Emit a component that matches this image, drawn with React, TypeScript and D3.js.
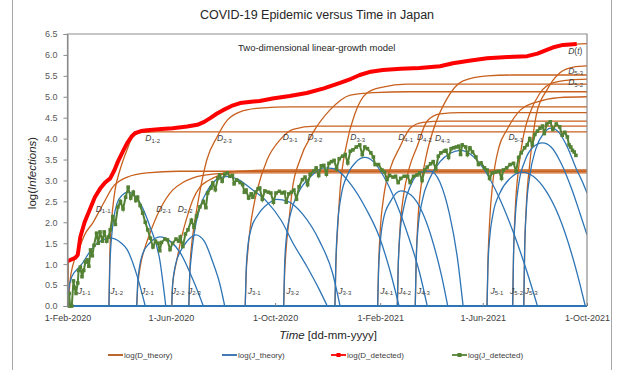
import * as d3 from "d3";
import { FC, useEffect, useRef } from "react";

const WIDTH = 619;
const HEIGHT = 370;
const PLOT = { left: 67.5, right: 587, top: 34, bottom: 306 };

const START = Date.UTC(2020, 1, 1);
const END = Date.UTC(2021, 9, 1);
const xTicks = [
  Date.UTC(2020, 1, 1),
  Date.UTC(2020, 5, 1),
  Date.UTC(2020, 9, 1),
  Date.UTC(2021, 1, 1),
  Date.UTC(2021, 5, 1),
  Date.UTC(2021, 9, 1),
];
const yTicks = [0, 0.5, 1, 1.5, 2, 2.5, 3, 3.5, 4, 4.5, 5, 5.5, 6, 6.5];

type Pt = [number, number]; // [days since 1-Feb-2020, log value]

// detected data
const dDetected: Pt[] = [
  [0, 1.07], [9, 1.15], [12, 1.22], [15, 1.65], [20, 2.0], [26, 2.3], [32, 2.6], [38, 2.8],
  [44, 2.95], [50, 3.05], [55, 3.25], [59, 3.45], [65, 3.7], [70, 3.9], [75, 4.05], [79, 4.13],
  [86, 4.18], [93, 4.2], [110, 4.23], [123, 4.25], [140, 4.29], [152, 4.33], [160, 4.4],
  [167, 4.49], [175, 4.6], [182, 4.68], [192, 4.78], [202, 4.85], [215, 4.88], [225, 4.9],
  [240, 4.96], [260, 5.02], [280, 5.09], [300, 5.2], [319, 5.33], [332, 5.43], [342, 5.52],
  [355, 5.6], [369, 5.64], [390, 5.67], [412, 5.69], [436, 5.73], [451, 5.8], [470, 5.86],
  [491, 5.92], [515, 5.95], [538, 5.97], [550, 6.03], [561, 6.12], [570, 6.19], [580, 6.24],
  [596, 6.26],
];

const jDetected: Pt[] = [
  [0, 0], [2, 0.3], [3, 0], [5, 0], [7, 0.6], [8, 0.45], [10, 0.3], [12, 0.55], [13, 0.85],
  [15, 0.93], [17, 0.7], [19, 0.85], [21, 1.05], [23, 1.1], [25, 0.95], [27, 1.34], [29, 1.2],
  [31, 1.45], [34, 1.74], [36, 1.5], [38, 1.77], [41, 1.55], [43, 1.77], [46, 1.55], [48, 1.65],
  [50, 1.82], [53, 2.13], [56, 1.95], [59, 2.37], [62, 2.5], [65, 2.32], [68, 2.6], [71, 2.84],
  [74, 2.58], [77, 2.72], [80, 2.52], [82, 2.6], [85, 2.4], [88, 2.22], [91, 2.0], [94, 1.82],
  [97, 1.62], [100, 1.41], [103, 1.55], [106, 1.5], [108, 1.32], [110, 1.52], [114, 1.6],
  [117, 1.58], [120, 1.35], [123, 1.5], [127, 1.6], [130, 1.55], [132, 1.65], [135, 1.42],
  [138, 1.72], [141, 1.82], [145, 2.05], [148, 1.88], [151, 2.15], [155, 2.37], [159, 2.5],
  [162, 2.35], [164, 2.7], [168, 2.82], [170, 2.94], [173, 2.78], [176, 3.05], [178, 3.13],
  [181, 2.98], [184, 3.15], [187, 3.18], [190, 3.1], [193, 3.12], [195, 2.92], [198, 3.01],
  [202, 2.95], [205, 2.9], [207, 2.72], [209, 2.77], [212, 2.58], [215, 2.68], [217, 2.6],
  [220, 2.72], [223, 2.8], [225, 2.82], [228, 2.55], [231, 2.75], [235, 2.72], [238, 2.7],
  [241, 2.48], [244, 2.7], [248, 2.74], [251, 2.7], [254, 2.72], [256, 2.48], [259, 2.68],
  [262, 2.72], [265, 2.77], [268, 2.55], [271, 2.85], [275, 3.02], [278, 3.08], [281, 2.9],
  [284, 3.15], [288, 3.22], [291, 3.3], [294, 3.12], [297, 3.35], [300, 3.36], [303, 3.15],
  [306, 3.41], [309, 3.45], [312, 3.48], [315, 3.28], [318, 3.52], [322, 3.58], [325, 3.62],
  [328, 3.42], [331, 3.7], [334, 3.73], [338, 3.8], [342, 3.85], [345, 3.62], [348, 3.8],
  [351, 3.76], [355, 3.66], [358, 3.56], [360, 3.38], [364, 3.38], [368, 3.25], [371, 3.2],
  [374, 3.02], [377, 3.12], [381, 3.08], [384, 3.1], [387, 2.95], [390, 3.05], [394, 3.1],
  [398, 3.1], [401, 2.95], [405, 3.1], [409, 3.13], [412, 3.18], [415, 3.0], [418, 3.25],
  [421, 3.32], [425, 3.4], [428, 3.45], [431, 3.28], [434, 3.58], [437, 3.66], [441, 3.7],
  [443, 3.72], [446, 3.55], [449, 3.76], [452, 3.78], [455, 3.8], [458, 3.82], [460, 3.62],
  [462, 3.85], [466, 3.8], [468, 3.62], [471, 3.78], [474, 3.68], [478, 3.56], [481, 3.38],
  [484, 3.42], [488, 3.3], [491, 3.25], [494, 3.05], [497, 3.18], [501, 3.2], [505, 3.22],
  [508, 3.05], [510, 3.25], [514, 3.3], [518, 3.38], [522, 3.41], [525, 3.22], [528, 3.55],
  [531, 3.66], [535, 3.78], [538, 3.85], [541, 4.0], [544, 3.85], [547, 4.1], [550, 4.18],
  [553, 4.25], [556, 4.3], [558, 4.12], [561, 4.35], [565, 4.4], [568, 4.22], [572, 4.35],
  [576, 4.28], [579, 4.08], [582, 4.15], [585, 4.04], [587, 3.85], [589, 3.8], [591, 3.72],
  [593, 3.68], [595, 3.6],
];

// theory: cumulative D (log), one array per sub-wave
const dTotal: Pt[] = [
  [0.5, 0], [1, 1.08], [9, 1.14], [12, 1.25], [15, 1.6], [26, 2.3], [38, 2.78], [50, 3.05],
  [59, 3.45], [70, 3.88], [79, 4.1], [93, 4.2], [123, 4.25], [152, 4.32], [167, 4.48],
  [182, 4.67], [202, 4.84], [225, 4.9], [240, 4.96], [280, 5.08], [319, 5.32], [342, 5.5],
  [369, 5.63], [412, 5.69], [436, 5.73], [451, 5.79], [491, 5.91], [538, 5.97], [561, 6.12],
  [580, 6.23], [596, 6.26], [608, 6.27],
];
const d11: Pt[] = [[1, 0], [3, 0.6], [6, 0.95], [10, 1.2], [15, 1.45], [20, 1.7], [30, 2.0], [42, 2.45], [53, 2.84], [70, 3.08], [93, 3.18], [130, 3.22], [608, 3.22]];
const d12: Pt[] = [[48.5, 0], [49.5, 1.2], [51, 1.9], [53, 2.35], [55.6, 2.77], [61.4, 3.25], [69.6, 3.73], [76.7, 4.05], [88, 4.15], [105, 4.16], [608, 4.16]];
const d21: Pt[] = [[81, 0], [82, 0.4], [85, 0.93], [90, 1.35], [96.5, 1.74], [108, 2.3], [123, 2.77], [135, 2.95], [147, 3.06], [170, 3.15], [200, 3.18], [608, 3.18]];
const d22: Pt[] = [[122, 0], [123, 0.5], [125, 0.8], [128, 1.1], [133, 1.6], [140, 2.13], [147, 2.55], [155, 2.84], [165, 3.0], [178, 3.13], [200, 3.22], [240, 3.25], [608, 3.25]];
const d23: Pt[] = [[142, 0], [143, 0.8], [145, 1.4], [148, 1.9], [152, 2.4], [156, 2.85], [163, 3.49], [175, 4.04], [187, 4.44], [202, 4.64], [225, 4.73], [260, 4.76], [608, 4.76]];
const d31: Pt[] = [[208, 0], [209, 0.7], [211, 1.3], [214, 1.9], [218, 2.4], [222, 2.77], [233.5, 3.49], [248.7, 3.97], [264, 4.22], [290, 4.3], [608, 4.3]];
const d32: Pt[] = [[253, 0], [254, 0.7], [256, 1.4], [259, 2.0], [263, 2.77], [272, 3.49], [287, 4.13], [307, 4.68], [331, 5.04], [358, 5.1], [400, 5.12], [608, 5.12]];
const d33: Pt[] = [[313, 0], [314, 0.9], [316, 1.8], [319, 2.77], [327, 3.9], [336.5, 4.6], [350.5, 5.09], [369, 5.23], [397, 5.3], [608, 5.3]];
const d41: Pt[] = [[363, 0], [364, 0.9], [366, 1.8], [370, 2.6], [378, 3.3], [389, 3.8], [401, 4.25], [416, 4.39], [440, 4.42], [608, 4.42]];
const d42: Pt[] = [[386, 0], [387, 0.9], [389, 1.8], [393, 2.6], [400, 3.3], [409, 3.8], [421, 4.42], [436, 4.59], [460, 4.62], [608, 4.62]];
const d43: Pt[] = [[407, 0], [408, 1.0], [410, 2.0], [414, 2.9], [420, 3.6], [428, 4.2], [444, 4.95], [463, 5.38], [491, 5.5], [520, 5.52], [608, 5.52]];
const d51: Pt[] = [[491, 0], [492, 1.0], [494, 2.0], [498, 3.0], [505, 3.8], [514, 4.2], [530, 4.68], [550, 4.88], [575, 4.98], [608, 5.0]];
const d52: Pt[] = [[521, 0], [522, 1.2], [524, 2.3], [528, 3.3], [534, 4.1], [541, 4.6], [553, 5.09], [568, 5.33], [588, 5.4], [608, 5.42]];
const d53: Pt[] = [[534, 0], [535, 1.3], [537, 2.4], [541, 3.4], [545, 4.1], [549, 4.6], [561, 5.16], [576, 5.57], [592, 5.71], [608, 5.74]];

// theory: daily J (log), one array per sub-wave
const j11: Pt[] = [[0.5, 0], [1.5, 0.4], [5, 0.7], [15, 0.95], [30, 1.4], [50, 1.62], [62, 1.52], [70, 1.34], [81, 0.75], [91, 0]];
const j12: Pt[] = [[48.5, 0], [49.5, 0.9], [52, 1.74], [58, 2.45], [64, 2.65], [71, 2.72], [78, 2.65], [85, 2.46], [96.5, 1.9], [108, 1.1], [115, 0]];
const j21: Pt[] = [[81, 0], [82, 0.5], [84, 0.9], [88, 1.25], [96, 1.5], [108, 1.65], [120, 1.55], [132, 1.27], [147, 0.62], [159, 0]];
const j22: Pt[] = [[122, 0], [123, 0.5], [126, 0.95], [132, 1.3], [140, 1.55], [150, 1.7], [160, 1.55], [170, 1.05], [178, 0.55], [184, 0]];
const j23: Pt[] = [[142, 0], [143, 0.7], [145, 1.2], [148, 1.7], [155, 2.35], [165, 2.8], [177, 3.05], [188, 3.1], [200, 3.02], [215, 2.8], [233, 2.5], [250, 2.05], [264, 1.5], [280, 0.95], [295, 0.38], [304, 0]];
const j31: Pt[] = [[208, 0], [209, 0.8], [211, 1.4], [215, 1.85], [222, 2.15], [235, 2.45], [245, 2.55], [258, 2.5], [275, 2.2], [295, 1.55], [310, 0.8], [319, 0]];
const j32: Pt[] = [[253, 0], [254, 0.9], [256, 1.6], [261, 2.2], [270, 2.7], [285, 3.1], [300, 3.3], [312, 3.28], [330, 2.95], [350, 2.3], [365, 1.65], [378, 0.8], [388, 0]];
const j33: Pt[] = [[313, 0], [314, 1.0], [316, 1.9], [320, 2.6], [328, 3.15], [338, 3.45], [348, 3.55], [358, 3.45], [370, 3.1], [385, 2.45], [400, 1.6], [412, 0.8], [421, 0]];
const j41: Pt[] = [[363, 0], [364, 0.8], [366, 1.5], [370, 2.1], [378, 2.5], [390, 2.75], [402, 2.65], [415, 2.25], [428, 1.5], [438, 0.7], [445, 0]];
const j42: Pt[] = [[386, 0], [387, 0.9], [389, 1.7], [394, 2.4], [402, 2.9], [414, 3.2], [425, 3.22], [436, 2.95], [447, 2.2], [456, 1.2], [463, 0]];
const j43: Pt[] = [[407, 0], [408, 1.0], [410, 1.8], [415, 2.5], [424, 3.05], [436, 3.45], [448, 3.65], [460, 3.72], [472, 3.62], [488, 3.25], [505, 2.6], [522, 1.75], [538, 0.8], [550, 0]];
const j51: Pt[] = [[491, 0], [492, 0.9], [494, 1.6], [498, 2.2], [506, 2.7], [518, 3.05], [532, 3.2], [545, 3.1], [560, 2.75], [575, 2.15], [590, 1.25], [600, 0.5], [606, 0]];
const j52: Pt[] = [[521, 0], [522, 1.2], [524, 2.1], [528, 2.9], [535, 3.45], [545, 3.8], [556, 3.9], [566, 3.8], [578, 3.4], [590, 2.8], [600, 2.2], [608, 1.7]];
const j53: Pt[] = [[534, 0], [535, 1.3], [537, 2.3], [541, 3.1], [548, 3.75], [557, 4.12], [566, 4.25], [575, 4.15], [585, 3.8], [595, 3.3], [603, 2.95], [608, 2.7]];

const dCurves = [d11, d12, d21, d22, d23, d31, d32, d33, d41, d42, d43, d51, d52, d53];
const jCurves = [j11, j12, j21, j22, j23, j31, j32, j33, j41, j42, j43, j51, j52, j53];

// curve labels: [subscript, day, value]
const dLabels: [string, number, number][] = [
  ["1-1", 33, 2.32], ["2-1", 104, 2.32], ["2-2", 129, 2.32], ["1-2", 91, 4.01],
  ["2-3", 175, 4.01], ["3-1", 252, 4.03], ["3-2", 281, 4.03], ["3-3", 331, 4.03],
  ["4-1", 387, 4.03], ["4-2", 409, 4.03], ["4-3", 430, 4.01], ["5-1", 516, 4.03],
  ["5-2", 586, 5.35], ["5-3", 586, 5.62],
];
const jLabels: [string, number, number][] = [
  ["1-1", 12, 0.36], ["1-2", 50, 0.36], ["2-1", 86, 0.36], ["2-2", 122, 0.36],
  ["2-3", 141, 0.36], ["3-1", 211, 0.36], ["3-2", 256, 0.36], ["3-3", 317, 0.36],
  ["4-1", 366, 0.36], ["4-2", 387, 0.36], ["4-3", 409, 0.36], ["5-1", 495, 0.36],
  ["5-2", 518, 0.36], ["5-3", 535, 0.36],
];

const legendItems = [
  { label: "log(D_theory)", color: "#B4541A", marker: false },
  { label: "log(J_theory)", color: "#2E6AAE", marker: false },
  { label: "log(D_detected)", color: "#FF0000", marker: true },
  { label: "log(J_detected)", color: "#548235", marker: true },
];

const D_COLOR = "#C8601E";
const J_COLOR = "#2E75B6";
const FONT = "'Liberation Sans', Arial, sans-serif";

const App: FC = () => {
  const ref = useRef<SVGSVGElement | null>(null);

  useEffect(() => {
    if (!ref.current) return;
    const svg = d3.select(ref.current);
    svg.selectAll("*").remove();

    const x = d3.scaleUtc([START, END], [PLOT.left, PLOT.right]);
    const y = d3.scaleLinear([0, 6.5], [PLOT.bottom, PLOT.top]);
    const toDate = (d: number) => START + d * 864e5;

    const line = d3
      .line<Pt>()
      .x((p) => x(toDate(p[0])))
      .y((p) => y(p[1]));
    const smooth = d3
      .line<Pt>()
      .x((p) => x(toDate(p[0])))
      .y((p) => y(p[1]))
      .curve(d3.curveMonotoneX);

    // outer chart frame
    svg
      .append("rect")
      .attr("x", 12.5)
      .attr("y", -2)
      .attr("width", 599)
      .attr("height", HEIGHT + 4)
      .attr("fill", "#fff")
      .attr("stroke", "#a6a6a6");

    svg
      .append("text")
      .attr("x", 317)
      .attr("y", 19)
      .attr("text-anchor", "middle")
      .attr("font-family", FONT)
      .attr("font-size", 12.5)
      .attr("fill", "#262626")
      .text("COVID-19 Epidemic versus Time in Japan");

    svg
      .append("defs")
      .append("clipPath")
      .attr("id", "plotClip")
      .append("rect")
      .attr("x", PLOT.left)
      .attr("y", PLOT.top)
      .attr("width", PLOT.right - PLOT.left)
      .attr("height", PLOT.bottom - PLOT.top + 2);

    const plot = svg.append("g").attr("clip-path", "url(#plotClip)");

    // theory D
    plot
      .selectAll(".dcurve")
      .data([dTotal, ...dCurves])
      .enter()
      .append("path")
      .attr("d", (d) => smooth(d))
      .attr("fill", "none")
      .attr("stroke", D_COLOR)
      .attr("stroke-width", 1.3);

    // theory J
    plot
      .selectAll(".jcurve")
      .data(jCurves)
      .enter()
      .append("path")
      .attr("d", (d) => smooth(d))
      .attr("fill", "none")
      .attr("stroke", J_COLOR)
      .attr("stroke-width", 1.3);

    plot
      .append("line")
      .attr("x1", PLOT.left)
      .attr("x2", PLOT.right)
      .attr("y1", y(0))
      .attr("y2", y(0))
      .attr("stroke", J_COLOR)
      .attr("stroke-width", 2);

    // detected D
    plot
      .append("path")
      .attr("d", line(dDetected))
      .attr("fill", "none")
      .attr("stroke", "#FF0000")
      .attr("stroke-width", 4)
      .attr("stroke-linejoin", "round");

    // detected J
    plot
      .append("path")
      .attr("d", line(jDetected))
      .attr("fill", "none")
      .attr("stroke", "#548235")
      .attr("stroke-width", 2);
    plot
      .selectAll(".jmark")
      .data(jDetected)
      .enter()
      .append("rect")
      .attr("x", (p) => x(toDate(p[0])) - 1.8)
      .attr("y", (p) => y(p[1]) - 1.8)
      .attr("width", 3.6)
      .attr("height", 3.6)
      .attr("fill", "#548235");

    // plot border
    svg
      .append("path")
      .attr(
        "d",
        `M${PLOT.left},${PLOT.bottom}V${PLOT.top}H${PLOT.right}V${PLOT.bottom}`
      )
      .attr("fill", "none")
      .attr("stroke", "#8c8c8c")
      .attr("stroke-width", 1.2);

    // y axis
    const yAxis = svg.append("g").attr("transform", `translate(${PLOT.left},0)`);
    yAxis
      .call(
        d3
          .axisLeft(y)
          .tickValues(yTicks)
          .tickFormat(d3.format(".1f"))
          .tickSize(4)
      )
      .call((g) => g.select(".domain").attr("stroke", "#8c8c8c"))
      .call((g) => g.selectAll(".tick line").attr("stroke", "#8c8c8c"))
      .call((g) =>
        g
          .selectAll(".tick text")
          .attr("font-family", FONT)
          .attr("font-size", 9)
          .attr("fill", "#595959")
          .attr("x", -10)
      );

    // x axis
    const xAxis = svg
      .append("g")
      .attr("transform", `translate(0,${PLOT.bottom})`);
    xAxis
      .call(
        d3
          .axisBottom(x)
          .tickValues(xTicks.map((t) => new Date(t)))
          .tickFormat((d) => d3.utcFormat("%-d-%b-%Y")(d as Date))
          .tickSize(-3)
      )
      .call((g) => g.select(".domain").remove())
      .call((g) => g.selectAll(".tick line").attr("stroke", "#7f7f7f"))
      .call((g) =>
        g
          .selectAll(".tick text")
          .attr("font-family", FONT)
          .attr("font-size", 9)
          .attr("fill", "#404040")
          .attr("y", 9)
      );

    // labels on curves
    const lab = svg
      .append("g")
      .attr("font-family", FONT)
      .attr("fill", "#404040");
    const addLabel = (letter: string, sub: string, d: number, v: number) => {
      const t = lab
        .append("text")
        .attr("x", x(toDate(d)))
        .attr("y", y(v) + 3)
        .attr("font-size", 8.5);
      t.append("tspan").attr("font-style", "italic").text(letter);
      t.append("tspan").attr("font-size", 6).attr("dy", 1.5).text(sub);
    };
    dLabels.forEach(([s, d, v]) => addLabel("D", s, d, v));
    jLabels.forEach(([s, d, v]) => addLabel("J", s, d, v));
    const dt = lab
      .append("text")
      .attr("x", x(toDate(586)))
      .attr("y", y(6.09) + 3)
      .attr("font-size", 8.5);
    dt.append("tspan").attr("font-style", "italic").text("D");
    dt.append("tspan").text("(");
    dt.append("tspan").attr("font-style", "italic").text("t");
    dt.append("tspan").text(")");

    svg
      .append("text")
      .attr("x", 238)
      .attr("y", 51)
      .attr("font-family", FONT)
      .attr("font-size", 9.5)
      .attr("fill", "#262626")
      .text("Two-dimensional linear-growth model");

    // axis titles
    const yTitle = svg
      .append("text")
      .attr("transform", `translate(36,173) rotate(-90)`)
      .attr("text-anchor", "middle")
      .attr("font-family", FONT)
      .attr("font-size", 11.5)
      .attr("fill", "#262626");
    yTitle.append("tspan").text("log(");
    yTitle.append("tspan").attr("font-style", "italic").text("Infections");
    yTitle.append("tspan").text(")");

    const xTitle = svg
      .append("text")
      .attr("x", 328)
      .attr("y", 339)
      .attr("text-anchor", "middle")
      .attr("font-family", FONT)
      .attr("font-size", 11.5)
      .attr("fill", "#262626");
    xTitle.append("tspan").attr("font-style", "italic").text("Time");
    xTitle.append("tspan").text(" [dd-mm-yyyy]");

    // legend
    const legendX = [108, 222, 331, 452];
    const legend = svg
      .append("g")
      .selectAll("g")
      .data(legendItems)
      .enter()
      .append("g")
      .attr("transform", (_, i) => `translate(${legendX[i]},355)`);
    legend
      .append("line")
      .attr("x1", 0)
      .attr("x2", 15)
      .attr("stroke", (d) => d.color)
      .attr("stroke-width", 1.8);
    legend
      .filter((d) => d.marker)
      .append("rect")
      .attr("x", 5.5)
      .attr("y", -2)
      .attr("width", 4)
      .attr("height", 4)
      .attr("fill", (d) => d.color);
    legend
      .append("text")
      .attr("x", 16)
      .attr("y", 3)
      .attr("font-family", FONT)
      .attr("font-size", 8)
      .attr("fill", "#404040")
      .text((d) => d.label);
  }, []);

  return (
    <svg
      ref={ref}
      width={WIDTH}
      height={HEIGHT}
      style={{ position: "absolute", left: 0, top: 0, background: "#fff" }}
    />
  );
};

export default App;
